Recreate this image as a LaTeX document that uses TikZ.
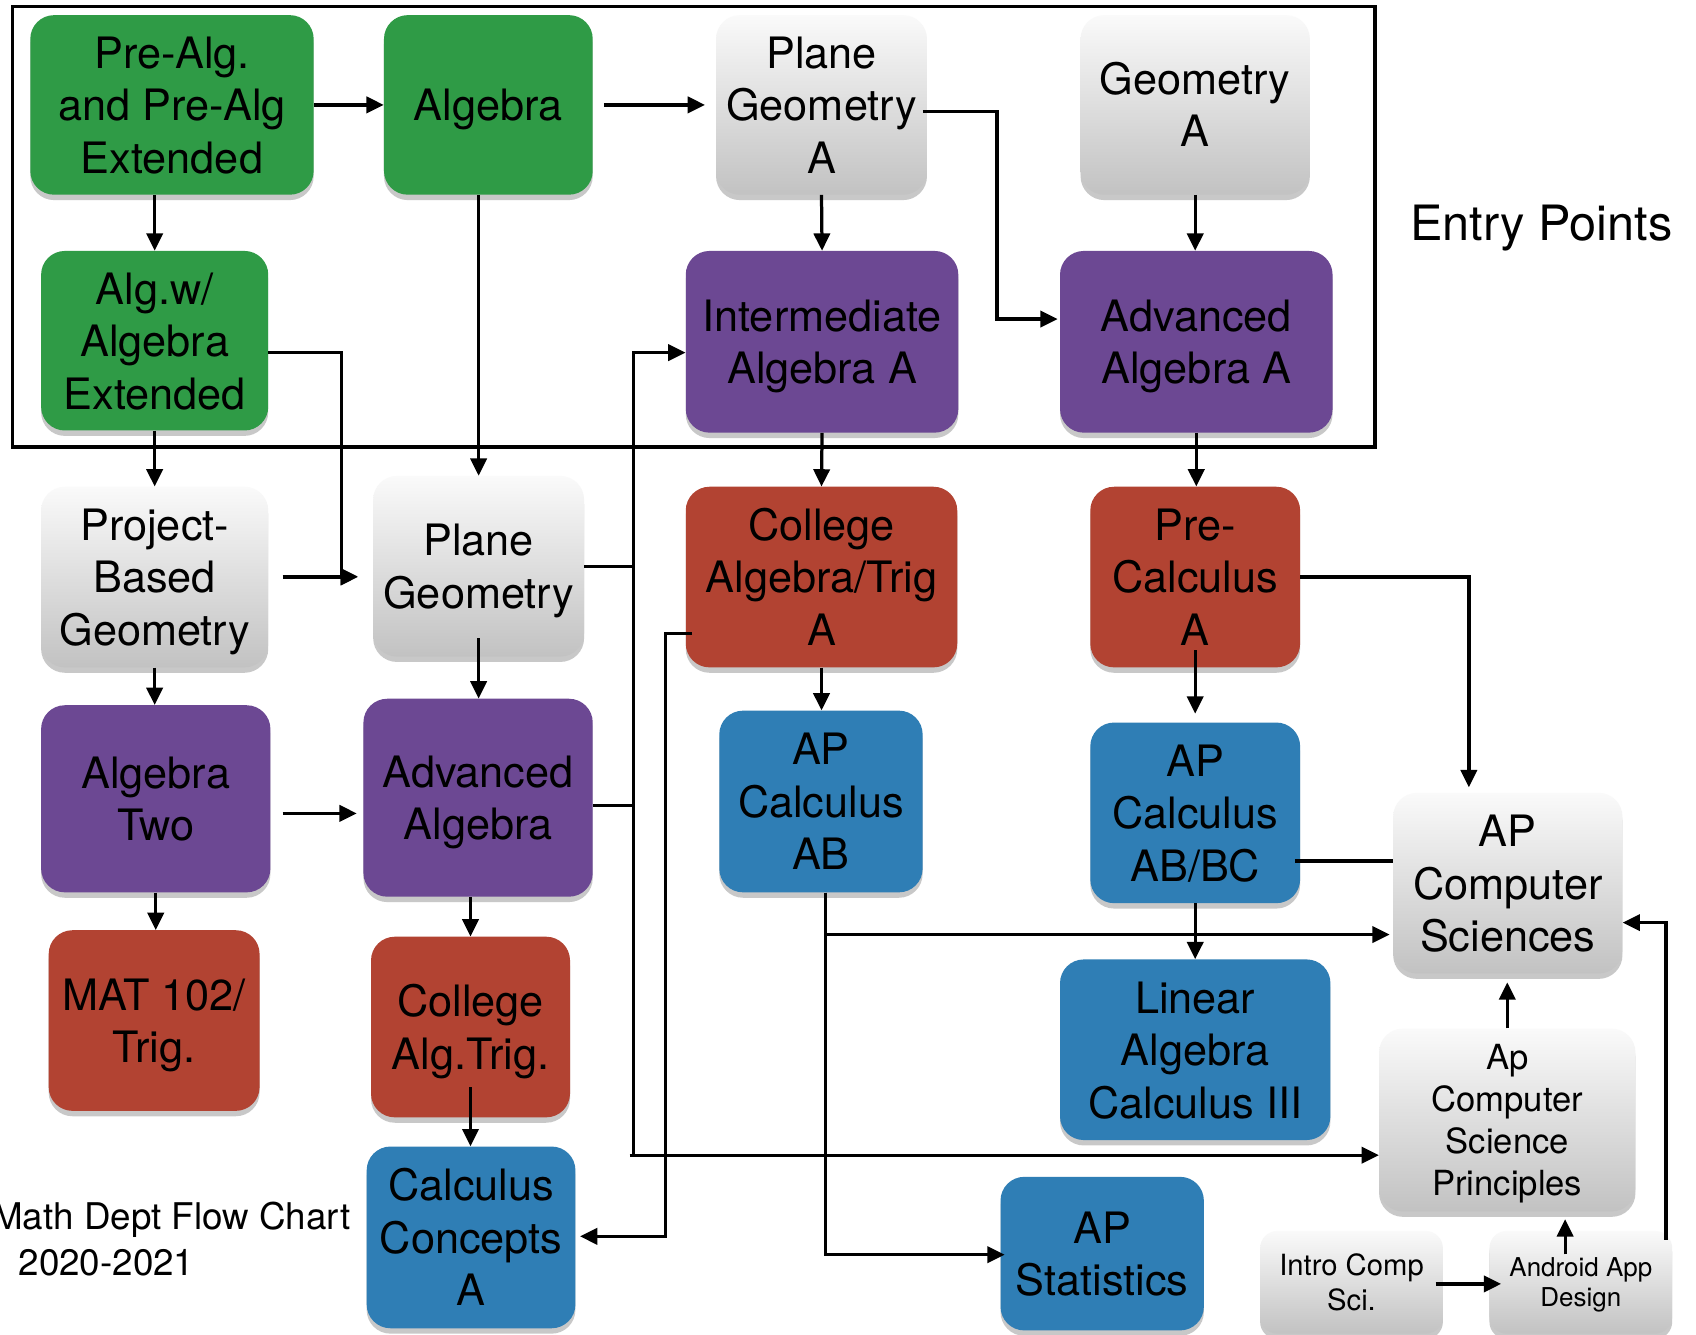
\documentclass[tikz,border=0pt]{standalone}
\usepackage{fontspec}
\setmainfont{TeX Gyre Heros}
\usetikzlibrary{arrows.meta,shadows,calc}
\definecolor{cgreen}{RGB}{47,155,70}
\definecolor{cpurple}{RGB}{108,72,147}
\definecolor{cred}{RGB}{178,67,50}
\definecolor{cblue}{RGB}{47,126,181}
\definecolor{gtop}{RGB}{250,250,250}
\definecolor{gbot}{RGB}{194,194,194}
\newcommand\myT{\rule{0pt}{0.95em}}
\newcommand\myB{\vphantom{g}}
\begin{document}
\begin{tikzpicture}[x=1pt,y=-1pt,
 box/.style={rounded corners=22pt,align=center,inner sep=0pt,text=black,
   font=\fontsize{40}{48.5}\selectfont,
   drop shadow={shadow xshift=0pt,shadow yshift=-5pt,opacity=0.3,fill=black!70}},
 sz/.style 2 args={minimum width=#1pt,minimum height=#2pt},
 gbox/.style={box,fill=cgreen},
 pbox/.style={box,fill=cpurple},
 rbox/.style={box,fill=cred},
 bbox/.style={box,fill=cblue},
 wbox/.style={box,top color=gtop,bottom color=gbot},
 ln/.style={line width=3pt},
 arr/.style={line width=3pt,-{Triangle[length=16pt,width=15pt]}},
 frame/.style={line width=3.5pt},
 lbl/.style={inner sep=0pt,text=black}
]
\useasboundingbox (0,0) rectangle (1568,1234);
\clip (0,0) rectangle (1568,1234);
\fill[white] (0,0) rectangle (1568,1234);

% frame of entry points
\draw[frame] (11.5,6) rectangle (1271,413);
\node[lbl,font=\fontsize{45}{54}\selectfont] (entry) at (1425,211) {Entry Points};
\node[lbl,font=\fontsize{34}{40}\selectfont,anchor=east] (title1) at (324,1128) {Math Dept Flow Chart};
\node[lbl,font=\fontsize{34}{40}\selectfont,anchor=west] (title2) at (17,1167) {2020-2021};

% nodes
\node[gbox,sz={262}{166}] (prealg) at (159,97) {\myT Pre-Alg.\\and Pre-Alg\\Extended\myB};
\node[gbox,sz={193}{166}] (alg) at (451.5,97) {\myT Algebra\myB};
\node[wbox,sz={195}{166}] (pga) at (759.5,97) {\myT Plane\\Geometry\\A\myB};
\node[wbox,sz={212}{166}] (geoa) at (1105,97) {\myT Geometry\\A\myB};
\node[gbox,sz={210}{166}] (algw) at (143,315) {\myT Alg.w/\\Algebra\\Extended\myB};
\node[pbox,sz={252}{168}] (inta) at (760,316) {\myT Intermediate\\Algebra A\myB};
\node[pbox,sz={252}{168}] (adva) at (1106,316) {\myT Advanced\\Algebra A\myB};
\node[wbox,sz={210}{167}] (pbg) at (143,533.5) {\myT Project-\\Based\\Geometry\myB};
\node[wbox,sz={195}{167}] (pg) at (442.5,523.5) {\myT Plane\\Geometry\myB};
\node[rbox,sz={251}{167}] (cat) at (759.5,533.5) {\myT College\\Algebra/Trig\\A\myB};
\node[rbox,sz={194}{167}] (prec) at (1105,533.5) {\myT Pre-\\Calculus\\A\myB};
\node[pbox,sz={212}{173}] (alg2) at (144,738.5) {\myT Algebra\\Two\myB};
\node[pbox,sz={212}{183}] (advalg) at (442,737.5) {\myT Advanced\\Algebra\myB};
\node[bbox,sz={188}{168}] (apab) at (759,741) {\myT AP\\Calculus\\AB\myB};
\node[bbox,sz={194}{167}] (apbc) at (1105,751.5) {\myT AP\\Calculus\\AB/BC\myB};
\node[wbox,sz={212}{167}] (apcs) at (1394,816.5) {\myT AP\\Computer\\Sciences\myB};
\node[rbox,sz={195}{167}] (mat) at (142.5,943.5) {\myT MAT 102/\\Trig.\myB};
\node[rbox,sz={184}{167}] (calt) at (435,949.5) {\myT College\\Alg.Trig.\myB};
\node[bbox,sz={250}{167}] (lin) at (1105,970.5) {\myT Linear\\Algebra\\Calculus III\myB};
\node[wbox,sz={237}{169},font=\fontsize{32}{39}\selectfont] (apcsp) at (1393.5,1035.5) {\myT Ap\\Computer\\Science\\Principles\myB};
\node[bbox,sz={193}{168}] (cc) at (435.5,1144) {\myT Calculus\\Concepts\\A\myB};
\node[bbox,sz={188}{142}] (apstat) at (1019,1159) {\myT AP\\Statistics\myB};
\node[wbox,sz={169}{95},rounded corners=16pt,font=\fontsize{27}{33}\selectfont] (intro) at (1249.5,1185.5) {\myT Intro Comp\\Sci.\myB};
\node[wbox,sz={169}{95},rounded corners=16pt,font=\fontsize{24}{28}\selectfont] (android) at (1461.5,1185.5) {\myT Android App\\Design\myB};

% connectors
\draw[arr] (prealg.east) -- (alg.west);
\draw[arr] ($(alg.east)+(10,0)$) -- ($(pga.west)+(-10,0)$);
\draw[arr] (prealg.south -| algw.north) -- (algw.north);
\draw[arr] (pga.south) -- (inta.north);
\coordinate (e1) at ($(pga.east)+(-4,6)$);
\coordinate (e2) at ($(adva.west)+(-58,-21)$);
\draw[arr] (e1) -| (e2) -- ($(adva.west)+(-2,-21)$);
\draw[arr] (geoa.south) -- (geoa.south |- adva.north);
\coordinate (g1) at ($(algw.east)+(0,11)$);
\coordinate (g2) at ($(pg.west)+(-29,9.5)$);
\draw[arr] (g1) -| (g2) -- ($(pg.west)+(-14,9.5)$);
\draw[arr] (algw.south) -- (algw.south |- pbg.north);
\coordinate (p1) at ($(pbg.east)+(13,0)$);
\coordinate (p2) at ($(pg.west)+(-14,10)$);
\draw[arr] (p1) -- (p1 -| p2);
\draw[arr] (pg.north |- alg.south) -- (pg.north);
\draw[arr] (inta.south) -- (cat.north);
\draw[arr] (adva.south) -- (adva.south |- prec.north);
\draw[arr] (pbg.south) -- (pbg.south |- alg2.north);
\draw[arr] ($(pg.south)+(0,-17)$) -- (pg.south |- advalg.north);
\draw[arr] ($(alg2.east)+(11,13.5)$) -- ($(advalg.west)+(-6,14.5)$);
\coordinate (bt) at (586,326);
\coordinate (bb) at (586,1068);
\draw[ln] (pg.east) -- (pg.east -| bt);
\coordinate (a1) at ($(advalg.east)+(0,7)$);
\draw[ln] (a1) -- (a1 -| bt);
\draw[arr] (bb) -- (bt) -- (bt -| inta.west);
\draw[arr] ($(bb)+(-4,0)$) -- (bb -| apcsp.west);
\coordinate (c1) at ($(cat.west)+(6,52.5)$);
\coordinate (c2) at (615,1143);
\draw[arr] (c1) -| (c2) -- ($(cc.east)+(4,-1)$);
\draw[arr] (cat.south) -- (cat.south |- apab.north);
\coordinate (r1) at ($(prec.south)+(0,-16)$);
\draw[arr] (r1) -- ($(r1 |- apbc.north)+(0,-8)$);
\draw[arr] (prec.east) -| ($(apcs.north)+(-36,-5)$);
\coordinate (d1) at ($(apbc.east)+(-5,44.5)$);
\draw[ln] (d1) -- (d1 -| apcs.west);
\draw[arr] (apbc.south) -- (apbc.south |- lin.north);
\coordinate (f1) at ($(apab.south)+(4,0)$);
\draw[arr] (f1) |- ($(apcs.west)+(-3,47.5)$);
\draw[arr] (f1) |- ($(apstat.west)+(4,1)$);
\draw[arr] (advalg.south -| calt.north) -- (calt.north);
\draw[arr] (alg2.south) -- (alg2.south |- mat.north);
\draw[arr] ($(calt.south)+(0,-28)$) -- (calt.south |- cc.north);
\draw[arr] (apcsp.north) -- ($(apcsp.north |- apcs.south)+(0,8)$);
\draw[arr] ($(intro.east)+(-7,1.5)$) -- ($(android.west)+(11,1.5)$);
\coordinate (h1) at ($(android.north)+(-14.5,22)$);
\draw[arr] (h1) -- ($(h1 |- apcsp.south)+(0,7)$);
\draw[arr] ($(android.east)+(-6,-39.5)$) |- ($(apcs.east)+(0,36.5)$);
\end{tikzpicture}
\end{document}
